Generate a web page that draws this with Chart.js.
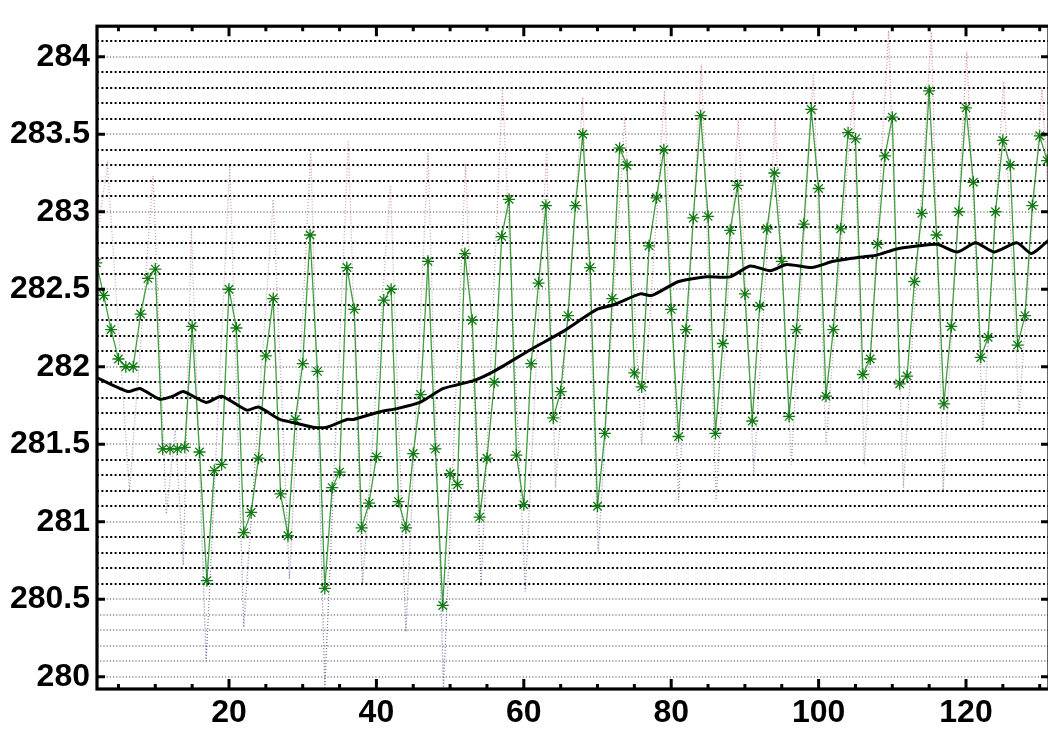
<!DOCTYPE html>
<html>
<head>
<meta charset="utf-8">
<script src="https://cdn.jsdelivr.net/npm/chart.js@4.4.1/dist/chart.umd.min.js"></script>
<style>
  html, body { margin: 0; padding: 0; background: #fff; overflow: hidden; }
  #wrap { width: 1048px; height: 729px; overflow: hidden; position: relative; }
  canvas { display: block; }
</style>
</head>
<body>
<div id="wrap"><canvas id="c" width="1060" height="729" style="width:1060px;height:729px"></canvas></div>
<script>
// ---- data ----
const greenX = [];
for (let i = 2; i <= 131; i++) greenX.push(i);
const greenY = [
  282.67, 282.46, 282.24, 282.05, 282.00, 282.00, 282.34, 282.57, 282.63, 281.47,
  281.47, 281.47, 281.48, 282.26, 281.45, 280.62, 281.33, 281.37, 282.50, 282.25,
  280.93, 281.06, 281.41, 282.07, 282.44, 281.18, 280.91, 281.66, 282.02, 282.85,
  281.97, 280.57, 281.22, 281.32, 282.64, 282.37, 280.96, 281.12, 281.42, 282.43,
  282.50, 281.13, 280.96, 281.44, 281.82, 282.68, 281.47, 280.46, 281.31, 281.24,
  282.73, 282.30, 281.03, 281.41, 281.90, 282.84, 283.08, 281.43, 281.11, 282.02,
  282.54, 283.04, 281.67, 281.84, 282.33, 283.04, 283.50, 282.64, 281.10, 281.57,
  282.44, 283.41, 283.30, 281.96, 281.87, 282.78, 283.09, 283.40, 282.37, 281.55,
  282.24, 282.96, 283.62, 282.97, 281.57, 282.15, 282.88, 283.17, 282.47, 281.65,
  282.39, 282.89, 283.25, 282.68, 281.68, 282.24, 282.92, 283.66, 283.15, 281.81,
  282.24, 282.89, 283.51, 283.47, 281.95, 282.05, 282.79, 283.36, 283.61, 281.89,
  281.94, 282.55, 282.99, 283.78, 282.85, 281.76, 282.26, 283.00, 283.67, 283.19,
  282.06, 282.19, 283.00, 283.46, 283.30, 282.14, 282.33, 283.04, 283.49, 283.33
];

const blackX = [2.1, 2.5, 6.3, 7.9, 10.6, 12.4, 13.8, 16.9, 19.0, 22.4, 24.0, 26.9, 28.7, 31.4, 33.3,
  36.0, 36.9, 40.5, 42.8, 45.9, 49.1, 53.2, 56.3, 60.9, 65.4, 69.9, 72.2, 75.8, 77.4, 81.0,
  84.8, 88.0, 90.7, 93.4, 95.7, 99.1, 102.0, 106.2, 107.9, 110.6, 113.6, 116.1, 118.8, 121.3,
  123.8, 126.9, 128.9, 131.3];
const blackY = [281.93, 281.92, 281.84, 281.86, 281.79, 281.81, 281.84, 281.77, 281.81, 281.72, 281.74,
  281.66, 281.64, 281.61, 281.61, 281.66, 281.66, 281.71, 281.73, 281.77, 281.86, 281.91, 281.98,
  282.11, 282.23, 282.37, 282.40, 282.47, 282.46, 282.55, 282.58, 282.58, 282.65, 282.62, 282.66,
  282.64, 282.68, 282.71, 282.72, 282.76, 282.78, 282.79, 282.74, 282.80, 282.74, 282.80, 282.73, 282.82];

const dottedX = [2, 3.5, 6.5, 9.7, 11.5, 12.7, 13.8, 14.9, 16.9, 20.1, 22.0, 26.0, 28.2, 31.1, 33.0,
  36.2, 38.1, 41.9, 44.0, 47.0, 49.1, 52.1, 54.2, 57.1, 60.2, 63.1, 64.3, 68.0, 70.1, 73.7,
  76.0, 79.1, 81.0, 84.1, 86.1, 89.1, 91.2, 94.1, 96.3, 99.3, 101.0, 104.7, 106.2, 109.5,
  111.5, 115.3, 116.9, 120.1, 122.3, 125.1, 127.2, 130.3, 131.5];
const dottedY = [282.80, 283.30, 281.20, 283.23, 281.05, 281.60, 280.72, 282.89, 280.10, 283.30, 280.32,
  283.08, 280.63, 283.39, 279.93, 283.46, 280.59, 283.17, 280.29, 283.38, 279.93, 283.31, 280.58,
  283.80, 280.55, 283.40, 281.22, 283.74, 280.81, 283.61, 281.50, 283.78, 281.14, 283.95, 281.14,
  283.59, 281.31, 283.59, 281.37, 283.90, 281.50, 283.78, 281.37, 284.17, 281.22, 284.16, 281.20,
  284.03, 281.60, 283.84, 281.70, 283.80, 282.80];

const xTickValues = [20, 40, 60, 80, 100, 120];
const xTickLabels = ['20', '40', '60', '80', '100', '120'];
const yTickValues = [280, 280.5, 281, 281.5, 282, 282.5, 283, 283.5, 284];
const yTickLabels = ['280', '280.5', '281', '281.5', '282', '282.5', '283', '283.5', '284'];

// ---- helpers ----
const pts = (xs, ys) => xs.map((x, i) => ({ x: x, y: ys[i] }));

const gridAndFrame = {
  id: 'gridAndFrame',
  beforeDatasetsDraw(chart) {
    const { ctx, chartArea: a, scales: { y } } = chart;
    ctx.save();
    for (let k = 0; k <= 41; k++) {
      const v = Math.round((280 + k * 0.1) * 10) / 10;
      const py = Math.round(y.getPixelForValue(v));
      const light = (Math.abs(v * 2 - Math.round(v * 2)) < 1e-6) || v < 280.45;
      ctx.beginPath();
      ctx.strokeStyle = light ? 'rgba(50,50,50,0.9)' : '#000';
      ctx.lineWidth = light ? 1.2 : 2;
      ctx.setLineDash(light ? [1.2, 2] : [2, 2.4]);
      ctx.moveTo(a.left, py);
      ctx.lineTo(a.right, py);
      ctx.stroke();
    }
    ctx.restore();
  },
  afterDatasetsDraw(chart) {
    const { ctx, chartArea: a, scales: { x, y } } = chart;
    ctx.save();
    ctx.strokeStyle = '#000';
    ctx.setLineDash([]);
    // ticks
    ctx.lineWidth = 3;
    for (let v = 5; v <= 130; v += 5) {
      const px = x.getPixelForValue(v);
      const len = (v % 20 === 0) ? 10 : 5;
      ctx.beginPath();
      ctx.moveTo(px, a.bottom); ctx.lineTo(px, a.bottom - len);
      ctx.moveTo(px, a.top); ctx.lineTo(px, a.top + len);
      ctx.stroke();
    }
    yTickValues.forEach(v => {
      const py = y.getPixelForValue(v);
      ctx.beginPath();
      ctx.moveTo(a.left, py); ctx.lineTo(a.left + 8, py);
      ctx.moveTo(a.right, py); ctx.lineTo(a.right - 8, py);
      ctx.stroke();
    });
    // frame
    ctx.lineWidth = 3.2;
    ctx.strokeRect(a.left, a.top, a.right - a.left, a.bottom - a.top);
    ctx.restore();
  }
};

const dottedColor = (c) => {
  const chart = c.chart;
  const a = chart.chartArea;
  if (!a) return 'rgba(160,130,150,0.7)';
  const g = chart.ctx.createLinearGradient(0, a.top, 0, a.bottom);
  g.addColorStop(0, 'rgba(215,110,130,0.8)');
  g.addColorStop(0.45, 'rgba(170,140,160,0.7)');
  g.addColorStop(1, 'rgba(70,85,150,0.85)');
  return g;
};

new Chart(document.getElementById('c'), {
  type: 'line',
  data: {
    datasets: [
      {
        label: 'trend',
        data: pts(blackX, blackY),
        borderColor: '#000',
        borderWidth: 3,
        pointRadius: 0,
        tension: 0.2,
        order: 0
      },
      {
        label: 'series',
        data: pts(greenX, greenY),
        borderColor: '#3f9e3f',
        borderWidth: 1.3,
        pointStyle: 'star',
        pointRadius: 6,
        pointBorderColor: '#127a12',
        pointBorderWidth: 1.3,
        pointBackgroundColor: '#127a12',
        tension: 0,
        order: 1
      },
      {
        label: 'members',
        data: pts(dottedX, dottedY),
        borderColor: dottedColor,
        borderWidth: 1.3,
        borderDash: [1, 2],
        pointRadius: 0,
        tension: 0,
        order: 2
      }
    ]
  },
  options: {
    responsive: false,
    animation: false,
    devicePixelRatio: 1,
    layout: { padding: { top: 14, right: 11, left: 0, bottom: 0 } },
    plugins: { legend: { display: false }, tooltip: { enabled: false } },
    scales: {
      x: {
        type: 'linear',
        min: 2.09,
        max: 131.26,
        grid: { display: false, drawTicks: false },
        border: { display: false },
        afterBuildTicks: (s) => { s.ticks = xTickValues.map(v => ({ value: v })); },
        afterFit: (s) => { s.height = 40; },
        ticks: {
          autoSkip: false,
          maxRotation: 0,
          padding: 5,
          color: '#000',
          font: { family: 'Liberation Sans, Arial, sans-serif', size: 32, weight: 'bold' },
          callback: (v, i) => xTickLabels[i]
        }
      },
      y: {
        type: 'linear',
        min: 279.921,
        max: 284.197,
        grid: { display: false, drawTicks: false },
        border: { display: false },
        afterBuildTicks: (s) => { s.ticks = yTickValues.map(v => ({ value: v })); },
        afterFit: (s) => { s.width = 97; },
        ticks: {
          autoSkip: false,
          padding: 7,
          color: '#000',
          font: { family: 'Liberation Sans, Arial, sans-serif', size: 32, weight: 'bold' },
          callback: (v, i) => yTickLabels[i]
        }
      }
    }
  },
  plugins: [gridAndFrame]
});
</script>
</body>
</html>
